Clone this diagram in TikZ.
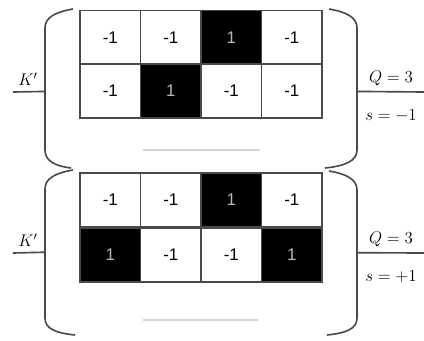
\documentclass[tikz,border=0pt]{standalone}
\usepackage{fontspec}
\setmainfont{Liberation Serif}
\setsansfont{Liberation Sans}
\usepackage{tikz}
\usetikzlibrary{positioning}
\definecolor{edge}{HTML}{4A4A4A}
\definecolor{faint}{HTML}{D6D6D6}
\tikzset{cell/.style={draw=edge,line width=1.3pt,minimum width=1.815cm,minimum height=1.62cm,font=\sffamily\Large,inner sep=0pt},
 dark/.style={cell,fill=black,text=gray!55},
 brace/.style={draw=edge,line width=1.4pt},
 tag/.style={font=\Large,inner sep=1pt}}
\begin{document}
\begin{tikzpicture}[x=0.03cm,y=-0.03cm]
\useasboundingbox (0,0) rectangle (424,341);
% upper block
\foreach \c/\v/\s in {1/-1/cell,2/-1/cell,3/1/dark,4/-1/cell}{\node[\s] (a1\c) at (80+60.5*\c-30.25,37.5) {\v};}
\foreach \c/\v/\s in {1/-1/cell,2/1/dark,3/-1/cell,4/-1/cell}{\node[\s] (a2\c) at (80+60.5*\c-30.25,91) {\v};}
\draw[brace] (73,9) .. controls (56,12) and (45,17) .. (45,28) -- coordinate[pos=.52] (la) (45,150) .. controls (45,161) and (55,166) .. (71,168);
\draw[brace] (329,9) .. controls (346,12) and (357,17) .. (357,28) -- coordinate[pos=.52] (ra) (357,150) .. controls (357,161) and (345,166) .. (325,168);
\coordinate (ka) at (13,92);
\coordinate (qa) at (424,92);
\draw[brace] (ka) -- (la);
\draw[brace] (ra) -- (qa);
\node[tag] (kla) at (28,79) {$K'$};
\node[tag] (qla) at (391,78) {$Q=3$};
\node[tag] (sla) at (391,116) {$s=-1$};
\draw[faint,line width=1.6pt] (143,150) -- (260,150);
% lower block
\foreach \c/\v/\s in {1/-1/cell,2/-1/cell,3/1/dark,4/-1/cell}{\node[\s] (b1\c) at (80+60.5*\c-30.25,200) {\v};}
\foreach \c/\v/\s in {1/1/dark,2/-1/cell,3/-1/cell,4/1/dark}{\node[\s] (b2\c) at (80+60.5*\c-30.25,255) {\v};}
\draw[brace] (73,170) .. controls (56,173) and (45,178) .. (45,189) -- coordinate[pos=.49] (lb) (45,318) .. controls (45,329) and (56,333) .. (75,335);
\draw[brace] (329,171) .. controls (346,174) and (357,179) .. (357,190) -- coordinate[pos=.49] (rb) (357,318) .. controls (357,329) and (346,333) .. (327,335);
\coordinate (kb) at (13,253);
\coordinate (qb) at (424,253);
\draw[brace] (kb) -- (lb);
\draw[brace] (rb) -- (qb);
\node[tag] (klb) at (28,240) {$K'$};
\node[tag] (qlb) at (391,239) {$Q=3$};
\node[tag] (slb) at (391,277) {$s=+1$};
\draw[faint,line width=1.6pt] (143,320) -- (258,320);
\end{tikzpicture}
\end{document}
